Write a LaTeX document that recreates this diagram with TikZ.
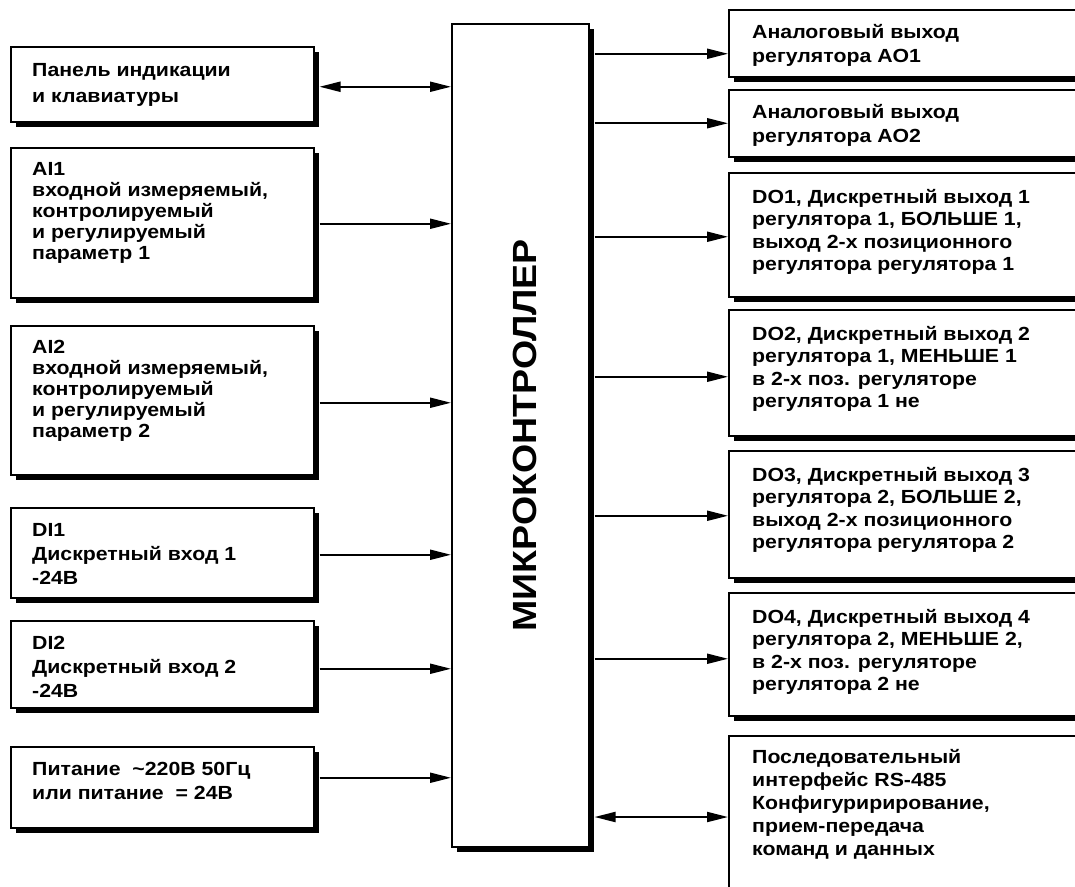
\documentclass[tikz,border=0pt]{standalone}
\usepackage{fontspec}
\setmainfont{Liberation Sans}[FakeStretch=1.12]
\usetikzlibrary{arrows.meta,shadows,calc}
\newcommand{\fsz}[1]{\bfseries\fontsize{19pt}{#1}\selectfont}
\begin{document}
\begin{tikzpicture}[x=1pt,y=-1pt,
  blk/.style={draw, line width=1.5pt, fill=white, anchor=north west, inner sep=0pt,
    drop shadow={shadow xshift=5pt, shadow yshift=-5pt, opacity=1, fill=black}},
  lbox/.style={blk, minimum width=303pt},
  rbox/.style={blk, minimum width=380pt},
  txt/.style={anchor=north west, inner sep=0pt, align=left, font=\fsz{22.5pt}},
  arr/.style={line width=2pt, -{Triangle[length=21pt,width=10pt]}},
  darr/.style={line width=2pt, {Triangle[length=21pt,width=10pt]}-{Triangle[length=21pt,width=10pt]}}]
\clip (0,0) rectangle (1075,886);
\fill[white] (0,0) rectangle (1075,886);

% microcontroller
\node[blk, minimum width=137pt, minimum height=823pt] (mc) at (451,23) {};
\node[font=\bfseries\fontsize{33.5pt}{40pt}\selectfont, rotate=90] (mct) at ($(mc.center)+(5,0)$) {МИКРОКОНТРОЛЛЕР};

% left boxes
\node[lbox, minimum height=75pt]  (pan) at (10,46) {};
\node[lbox, minimum height=150pt] (ai1) at (10,147) {};
\node[lbox, minimum height=149pt] (ai2) at (10,325) {};
\node[lbox, minimum height=90pt]  (di1) at (10,507) {};
\node[lbox, minimum height=87pt]  (di2) at (10,620) {};
\node[lbox, minimum height=81pt]  (pwr) at (10,746) {};

\node[txt, font=\fsz{26pt}] (tpan) at ($(pan.north west)+(22,17)$) {Панель индикации\\и клавиатуры};
\node[txt, font=\fsz{21pt}] (tai1) at ($(ai1.north west)+(22,15)$) {AI1\\входной измеряемый,\\контролируемый\\и регулируемый\\параметр 1};
\node[txt, font=\fsz{21pt}] (tai2) at ($(ai2.north west)+(22,15)$) {AI2\\входной измеряемый,\\контролируемый\\и регулируемый\\параметр 2};
\node[txt, font=\fsz{24pt}] (tdi1) at ($(di1.north west)+(22,16)$) {DI1\\Дискретный вход 1\\-24В};
\node[txt, font=\fsz{24pt}] (tdi2) at ($(di2.north west)+(22,16)$) {DI2\\Дискретный вход 2\\-24В};
\node[txt, font=\fsz{24pt}] (tpwr) at ($(pwr.north west)+(22,16)$) {Питание\ \ \textasciitilde220В 50Гц\\или питание\ \ = 24В};

% right boxes
\node[rbox, minimum height=67pt]  (ao1) at (728,9) {};
\node[rbox, minimum height=67pt]  (ao2) at (728,89) {};
\node[rbox, minimum height=124pt] (do1) at (728,172) {};
\node[rbox, minimum height=126pt] (do2) at (728,309) {};
\node[rbox, minimum height=127pt] (do3) at (728,450) {};
\node[rbox, minimum height=123pt] (do4) at (728,592) {};
\node[rbox, minimum height=200pt] (rs)  at (728,735) {};

\node[txt, font=\fsz{24pt}] (tao1) at ($(ao1.north west)+(24,15)$) {Аналоговый выход\\регулятора AO1};
\node[txt, font=\fsz{24pt}] (tao2) at ($(ao2.north west)+(24,15)$) {Аналоговый выход\\регулятора AO2};
\node[txt] (tdo1) at ($(do1.north west)+(24,17)$) {DO1, Дискретный выход 1\\регулятора 1, БОЛЬШЕ 1,\\выход 2-х позиционного\\регулятора регулятора 1};
\node[txt] (tdo2) at ($(do2.north west)+(24,17)$) {DO2, Дискретный выход 2\\регулятора 1, МЕНЬШЕ 1\\в 2-х поз. регуляторе\\регулятора 1 не};
\node[txt] (tdo3) at ($(do3.north west)+(24,17)$) {DO3, Дискретный выход 3\\регулятора 2, БОЛЬШЕ 2,\\выход 2-х позиционного\\регулятора регулятора 2};
\node[txt] (tdo4) at ($(do4.north west)+(24,17)$) {DO4, Дискретный выход 4\\регулятора 2, МЕНЬШЕ 2,\\в 2-х поз. регуляторе\\регулятора 2 не};
\node[txt, font=\fsz{23pt}] (trs) at ($(rs.north west)+(24,14)$) {Последовательный\\интерфейс RS-485\\Конфигуририрование,\\прием-передача\\команд и данных};

% left connectors
\draw[darr] ($(pan.east)+(5,2.5)$) -- ($(pan.east -| mc.west)+(0,2.5)$);
\draw[arr] ($(ai1.east)+(5,1)$) -- ($(ai1.east -| mc.west)+(0,1)$);
\draw[arr] ($(ai2.east)+(5,2.5)$) -- ($(ai2.east -| mc.west)+(0,2.5)$);
\draw[arr] ($(di1.east)+(5,2)$) -- ($(di1.east -| mc.west)+(0,2)$);
\draw[arr] ($(di2.east)+(5,4.5)$) -- ($(di2.east -| mc.west)+(0,4.5)$);
\draw[arr] ($(pwr.east)+(5,-9.5)$) -- ($(pwr.east -| mc.west)+(0,-9.5)$);

% right connectors
\draw[arr] ($(ao1.west -| mc.east)+(5,10.5)$) -- ($(ao1.west)+(0,10.5)$);
\draw[arr] ($(ao2.west -| mc.east)+(5,0)$) -- (ao2.west);
\draw[arr] ($(do1.west -| mc.east)+(5,2)$) -- ($(do1.west)+(0,2)$);
\draw[arr] ($(do2.west -| mc.east)+(5,4)$) -- ($(do2.west)+(0,4)$);
\draw[arr] ($(do3.west -| mc.east)+(5,1.5)$) -- ($(do3.west)+(0,1.5)$);
\draw[arr] ($(do4.west -| mc.east)+(5,4.5)$) -- ($(do4.west)+(0,4.5)$);
\draw[darr] ($(rs.north west -| mc.east)+(5,82)$) -- ($(rs.north west)+(0,82)$);
\end{tikzpicture}
\end{document}
